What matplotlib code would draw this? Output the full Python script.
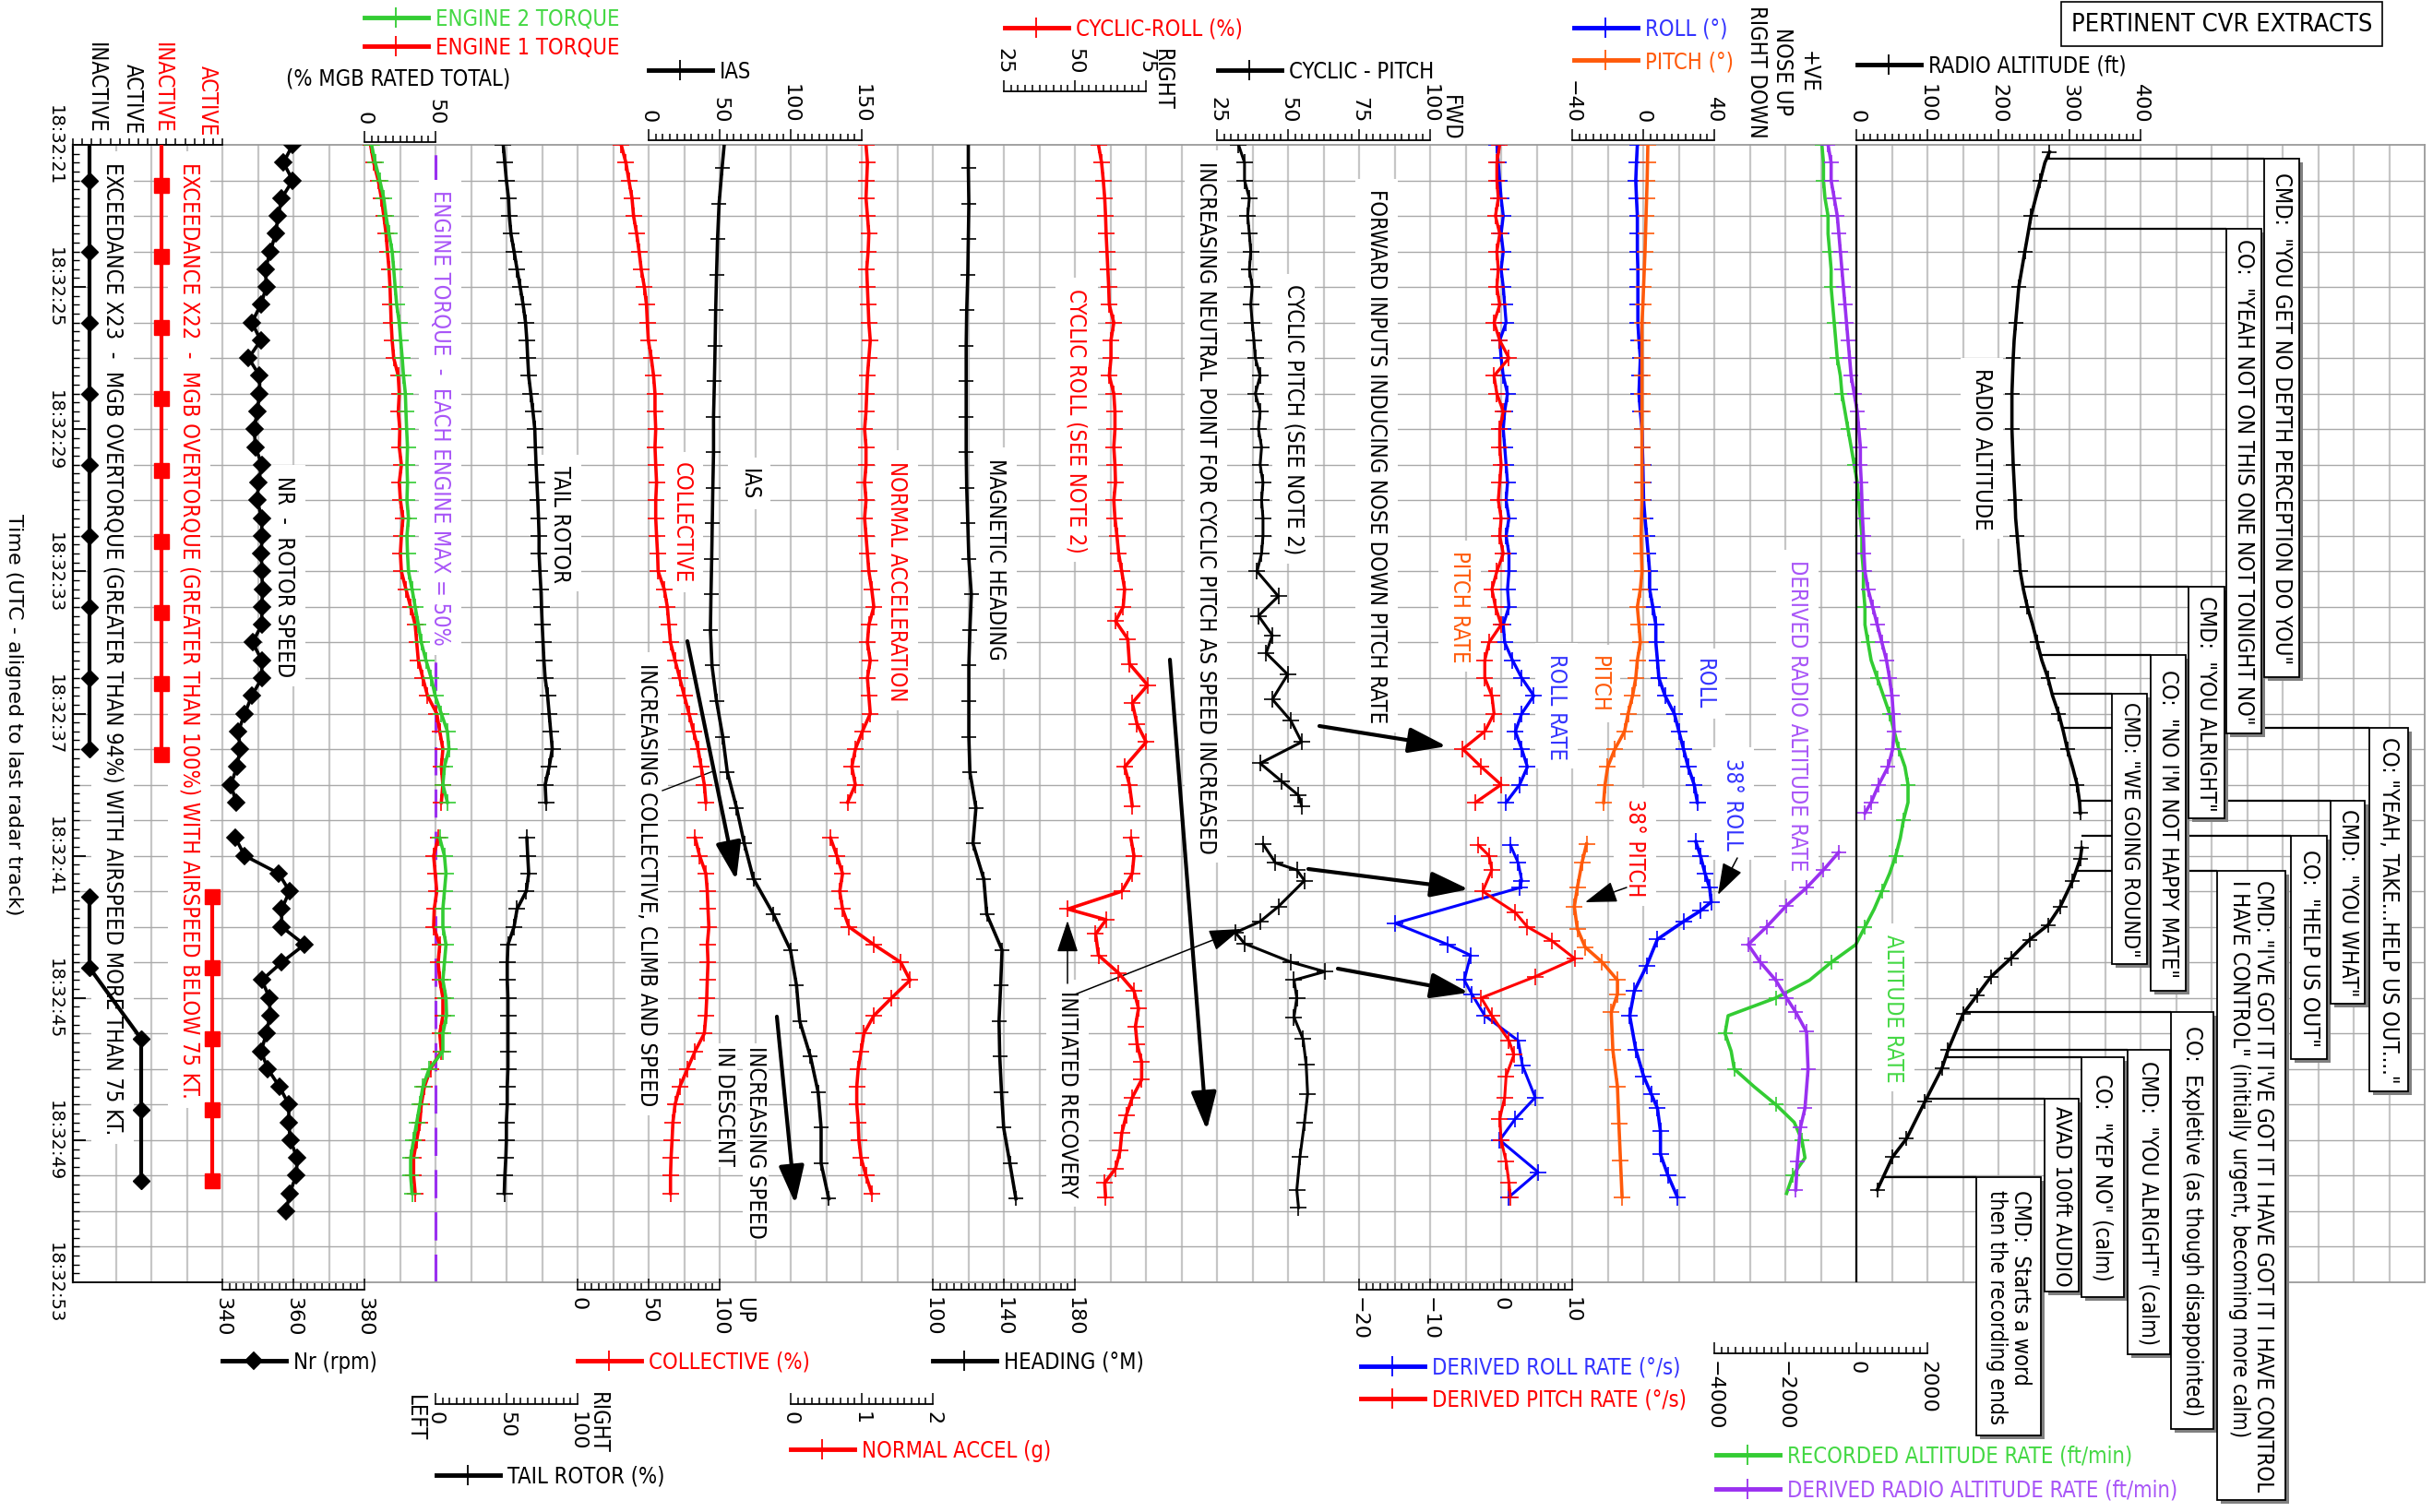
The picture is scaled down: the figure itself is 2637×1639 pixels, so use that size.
import numpy as np
import matplotlib
matplotlib.use("Agg")
import matplotlib.pyplot as plt
from matplotlib import font_manager as fm
from matplotlib.lines import Line2D
from matplotlib.patches import Rectangle

nan = np.nan

# ---------------------------------------------------------------- data
# time is seconds past 18:32:00 UTC
T_HALF = np.arange(21.0, 50.51, 0.5)                      # 2 Hz parameters
T_PRE = np.arange(21.0, 39.51, 0.5)                       # 2 Hz, before data gap
T_NR = np.arange(21.0, 51.01, 0.5)
T_SLOW = np.r_[21.0, np.arange(21.65, 50.66, 1.0)]        # 1 Hz parameters

X23_T = [20.0, 22.0, 24.0, 26.0, 28.0, 30.0, 32.0, 34.0, 36.0, 38.0, nan, 42.15, 44.15, 46.15, 48.15, 50.15]
X23_STATE = [0, 0, 0, 0, 0, 0, 0, 0, 0, 0, nan, 0, 0, 1, 1, 1]
X22_T = [20.0, 22.15, 24.15, 26.15, 28.15, 30.15, 32.15, 34.15, 36.15, 38.15, nan, 42.15, 44.15, 46.15, 48.15, 50.15]
X22_STATE = [0, 0, 0, 0, 0, 0, 0, 0, 0, 0, nan, 1, 1, 1, 1, 1]

NR = [359.8, 357.2, 359.8, 356.7, 355.7, 355.0, 353.5, 352.1, 352.4, 350.8, 348.3, 350.8, 347.4, 350.5,
      350.5, 349.8, 349.0, 349.3, 351.1, 350.2, 349.8, 351.1, 351.1, 351.0, 351.1, 351.3, 351.1, 351.1,
      348.5, 351.1, 351.1, 348.3, 346.3, 344.5, 345.0, 344.1, 342.4, 343.9, nan,
      343.7, 346.3, 355.9, 358.9, 356.7, 356.7, 363.1, 356.7, 351.1, 353.3, 353.4, 352.4, 350.9, 352.8,
      356.1, 358.7, 358.7, 359.1, 361.1, 360.8, 358.9, 358.0]

TQ_ENG1 = [4.3, 6.5, 9.7, 11.9, 13.6, 15.2, 16.2, 17.3, 18.0, 18.4, 18.8, 19.5, 20.6, 23.8, 24.5, 23.8,
           24.9, 24.5, 26.0, 24.5, 25.3, 27.1, 26.0, 25.3, 26.0, 29.2, 32.5, 35.7, 36.8, 37.9, 41.1, 44.4,
           50.9, 53.0, 55.2, 54.1, 55.2, 54.1, nan,
           51.9, 48.7, 49.8, 50.9, 49.1, 48.7, 53.0, 51.9, 53.0, 55.2, 55.2, 53.0, 54.1, 46.5, 42.2, 40.0,
           39.0, 36.8, 34.6, 34.6, 35.7]
TQ_ENG2 = [5.0, 7.6, 10.8, 13.6, 15.2, 17.3, 19.5, 20.6, 21.6, 22.7, 24.5, 25.5, 26.6, 27.5, 28.8, 29.2,
           29.7, 30.3, 29.9, 30.3, 29.9, 31.0, 29.9, 30.3, 31.0, 33.5, 35.7, 37.9, 40.0, 43.3, 47.0, 49.8,
           54.1, 58.4, 59.5, 56.3, 55.2, 58.4, nan,
           53.0, 56.3, 57.4, 56.3, 55.2, 55.2, 57.4, 56.3, 55.2, 57.4, 57.8, 55.2, 55.2, 45.5, 41.1, 39.0,
           36.8, 34.6, 32.5, 32.5, 33.5]
TAIL_ROTOR = [47.7, 48.8, 49.9, 51.4, 52.0, 53.1, 55.3, 57.4, 59.6, 61.7, 63.4, 64.3, 64.9, 65.6, 67.1,
              68.6, 69.9, 70.3, 70.8, 71.4, 72.0, 72.5, 72.9, 72.9, 73.5, 74.2, 74.6, 75.1, 75.7, 76.3,
              77.2, 78.9, 80.0, 81.1, 82.2, 80.0, 77.2, 77.8, nan,
              64.3, 64.9, 65.6, 63.9, 57.4, 55.3, 51.0, 50.5, 50.5, 51.0, 51.0, 51.0, 51.0, 51.0, 50.5,
              50.5, 49.9, 49.9, 49.5, 48.8, 48.4]
COLLECTIVE = [30.7, 34.0, 36.1, 38.3, 39.4, 41.6, 43.3, 44.8, 47.0, 48.5, 49.1, 49.8, 51.9, 53.5, 54.5,
              54.5, 55.0, 54.5, 55.0, 55.6, 55.0, 55.0, 55.6, 56.3, 56.7, 61.0, 63.2, 64.3, 65.4, 68.6,
              71.9, 75.1, 78.4, 81.6, 84.8, 87.0, 89.2, 90.3, nan,
              82.7, 85.9, 90.3, 91.3, 91.8, 92.4, 91.3, 91.8, 91.3, 90.9, 90.3, 89.2, 82.7, 77.3, 71.9,
              68.6, 67.1, 66.5, 65.8, 65.4, 65.4]
IAS = [53.2, 51.7, 49.6, 48.5, 47.8, 47.2, 46.8, 46.3, 45.7, 45.7, 45.2, 44.8, 44.4, 43.9, 43.5, 44.6,
       47.8, 52.2, 55.4, 61.9, 67.3, 73.8, 87.9, 99.8, 104.1, 106.3, 113.9, 119.3, 121.4, 121.4, 126.8]
NORMAL_G = [1.06, 1.08, 1.07, 1.06, 1.08, 1.10, 1.09, 1.07, 1.08, 1.09, 1.10, 1.12, 1.10, 1.08, 1.07,
            1.06, 1.04, 1.06, 1.06, 1.04, 1.06, 1.04, 1.06, 1.08, 1.10, 1.14, 1.17, 1.10, 1.08, 1.12,
            1.08, 1.10, 1.12, 1.01, 0.91, 0.86, 0.91, 0.80, nan,
            0.56, 0.65, 0.73, 0.69, 0.73, 0.82, 1.17, 1.55, 1.68, 1.42, 1.17, 1.03, 0.99, 0.95, 0.93,
            0.93, 0.95, 0.96, 0.99, 1.06, 1.14]
HEADING = [120.0, 120.0, 120.3, 120.0, 119.7, 119.1, 118.8, 118.8, 118.8, 118.8, 119.1, 119.7, 120.3,
           121.7, 120.9, 120.3, 120.3, 120.3, 120.9, 124.3, 122.6, 128.7, 130.4, 139.0, 138.2, 137.3,
           137.7, 138.7, 139.9, 143.4, 146.8]

CROLL_A_T = np.r_[np.arange(21.0, 34.01, 0.5), [34.4, 34.9, 35.6, 36.2, 36.7, 37.3, 37.8, 38.5, 39.0, 39.6]]
CROLL_A = [58.3, 59.4, 60.0, 60.5, 60.8, 61.0, 61.3, 61.6, 61.9, 62.1, 63.7, 62.7, 62.7, 62.1, 63.7,
           64.1, 64.1, 63.7, 64.1, 64.3, 63.7, 64.1, 64.8, 65.4, 66.5, 67.5, 67.0,
           64.3, 68.6, 69.2, 75.6, 70.2, 71.9, 75.1, 67.5, 69.2, 70.2]
CROLL_B_T = [40.5, 41.0, 41.5, 42.0, 42.5, 42.8, 43.2, 43.8, 44.3, 44.8, 45.3, 45.8, 46.3, 46.8, 47.3,
             47.8, 48.3, 48.8, 49.3, 49.8, 50.2, 50.6]
CROLL_B = [69.7, 70.8, 70.2, 66.5, 47.5, 61.0, 57.3, 58.3, 65.4, 70.8, 72.4, 71.3, 71.9, 73.5, 73.5,
           70.2, 68.1, 66.5, 65.9, 64.3, 60.5, 60.8]

CPITCH_A_T = np.r_[np.arange(21.0, 33.01, 0.5), [33.7, 34.25, 34.8, 35.3, 35.9, 36.6, 37.2, 37.8, 38.4, 38.9, 39.3, 39.6]]
CPITCH_A = [32.6, 34.7, 34.7, 36.4, 35.8, 36.4, 36.9, 36.4, 37.4, 36.9, 37.4, 38.0, 38.5, 40.2, 38.5,
            40.2, 39.6, 40.7, 40.2, 41.2, 40.7, 41.2, 41.2, 40.7, 39.1,
            46.6, 39.6, 44.5, 42.3, 49.9, 44.5, 51.0, 54.8, 40.2, 47.7, 53.7, 54.8]
CPITCH_B_T = [40.67, 41.2, 41.4, 41.7, 42.43, 42.85, 43.16, 43.47, 43.99, 44.26, 44.5, 45.0, 45.54,
              46.16, 46.88, 47.7, 48.5, 49.47, 50.4, 50.9]
CPITCH_B = [41.2, 45.6, 53.1, 55.8, 46.6, 40.2, 31.5, 34.7, 51.0, 62.9, 52.1, 53.1, 52.1, 55.3, 56.4,
            56.9, 55.8, 54.2, 53.1, 53.7]

PRATE_A = [-0.2, -0.6, -0.6, -0.4, -0.8, -0.2, -0.6, -0.4, -0.6, -0.2, -1.0, -0.2, 1.1, -1.0, -0.6,
           0.3, -0.2, -0.2, 0.0, -0.2, -0.4, 0.0, -0.2, 0.3, -0.6, -1.3, -0.8, 0.0, -1.7, -2.3, -2.3,
           -1.3, -1.0, -2.3, -5.4, -2.8, 0.0, -3.6]
PRATE_B_T = [40.7, 41.0, 41.4, 42.0, 42.6, 43.0, 43.4, 43.9, 44.4, 45.0, 45.5, 46.2, 46.6, 47.2, 47.8,
             48.4, 49.0, 49.6, 50.2, 50.6]
PRATE_B = [-3.2, -1.7, -1.3, -2.6, 2.0, 3.7, 7.2, 10.4, 4.8, -2.8, -1.3, 1.1, 1.8, 0.7, 0.5, -0.2, 0.0,
           0.7, 1.1, 1.3]
RRATE_A = [-0.6, -0.4, -0.2, 0.0, 0.3, 0.0, 0.3, 0.0, 0.3, 0.5, 0.7, -0.2, 0.0, 0.3, 0.9, 0.5, 0.3,
           0.5, 0.7, 0.9, 0.7, 1.1, 0.7, 1.1, 1.1, 0.9, 1.1, 0.3, 0.5, 1.6, 2.9, 4.6, 2.9, 2.0, 2.9,
           3.7, 2.6, 0.7]
RRATE_B_T = [40.7, 41.2, 41.7, 41.9, 42.9, 43.5, 43.8, 44.5, 44.9, 45.5, 46.2, 46.9, 47.8, 48.4, 49.0,
             49.9, 50.6]
RRATE_B = [1.3, 2.4, 2.9, 2.6, -14.9, -7.5, -4.3, -5.2, -4.1, -2.3, 2.4, 3.0, 4.8, 2.0, -0.2, 5.2, 1.1]

ROLL_A = [-3.3, -3.8, -4.2, -3.8, -3.3, -3.3, -3.3, -3.0, -3.0, -3.0, -3.0, -2.4, -1.6, -2.0, -2.4,
          -1.6, -0.7, -0.5, -0.2, 0.0, 0.2, 1.0, 1.9, 2.8, 3.6, 3.6, 5.4, 7.1, 7.1, 8.0, 8.8, 12.3,
          17.5, 20.1, 22.7, 25.3, 28.7, 30.5]
ROLL_B_T = [40.6, 41.0, 41.5, 41.9, 42.3, 42.55, 42.85, 43.35, 44.1, 44.8, 45.5, 46.45, 47.2, 47.7,
            48.1, 48.75, 49.4, 50.0, 50.6]
ROLL_B = [29.6, 32.2, 34.8, 37.4, 38.3, 32.2, 22.7, 8.0, 1.9, -5.0, -7.6, -4.2, 0.2, 4.5, 8.0, 9.7,
          9.7, 14.0, 19.2]
PITCH_A = [2.6, 2.4, 2.2, 1.9, 1.6, 1.3, 1.0, 0.6, 0.2, -0.2, -0.7, -0.7, -0.7, -0.7, -0.7, -0.7, -0.7,
           -0.7, -0.7, -0.7, -0.7, -1.0, -1.2, -1.0, -0.7, -1.6, -3.3, -2.4, -1.6, -3.3, -4.2, -6.0,
           -8.5, -10.5, -16.0, -20.0, -21.5, -22.3]
PITCH_B_T = [40.67, 41.2, 41.9, 42.43, 43.05, 43.57, 43.99, 44.5, 44.9, 45.4, 46.47, 47.5, 48.54, 49.58, 50.6]
PITCH_B = [-31.9, -34.5, -37.1, -38.8, -37.1, -32.7, -23.2, -14.5, -14.5, -18.0, -17.1, -14.5, -13.7,
           -12.8, -11.9]

ALT_RATE = [-970, -926, -926, -883, -797, -797, -753, -710, -710, -667, -623, -580, -537, -450, -407,
            -320, -234, -147, -61, 26, 69, 113, 156, 156, 199, 199, 242, 242, 329, 416, 589, 762, 935,
            1065, 1195, 1368, 1455, 1455, 1325, 1238, 1108, 935, 719, 502, 242, -17, -710, -1316,
            -2268, -3610, -3697, -3524, -3437, -2875, -2268, -1749, -1532, -1446, -1792, -1965]
RA_RATE_A_T = np.r_[T_PRE, 39.8]
RA_RATE_A = [-797, -710, -710, -623, -537, -493, -450, -407, -364, -320, -277, -234, -190, -147, -61,
             26, 69, 113, 113, 139, 156, 173, 199, 216, 242, 329, 459, 589, 719, 848, 935, 1004, 1039,
             1065, 1022, 892, 632, 416, 242]
RA_RATE_B_T = [40.9, 41.4, 41.9, 42.4, 43.0, 43.5, 44.0, 44.5, 45.0, 45.4, 45.95, 47.0, 48.1, 48.65, 49.6, 50.4]
RA_RATE_B = [-494, -926, -1403, -1965, -2528, -3048, -2700, -2270, -1965, -1706, -1403, -1359, -1446,
             -1576, -1662, -1706]

RALT_A_T = np.r_[21.2, np.arange(21.5, 39.51, 0.5), 39.8]
RALT_A = [271.9, 265.4, 258.9, 252.4, 245.9, 241.6, 237.2, 232.9, 228.6, 226.4, 224.2, 222.1, 220.8,
          219.9, 219.0, 219.0, 219.0, 219.9, 220.8, 222.1, 223.4, 224.2, 226.4, 228.6, 230.7, 235.1,
          240.7, 248.1, 254.6, 261.0, 269.7, 276.2, 284.8, 291.3, 297.0, 304.3, 310.8, 314.3, 315.2]
RALT_B_T = [40.78, 41.09, 41.71, 42.43, 42.95, 43.36, 43.88, 44.4, 44.92, 45.44, 46.47, 46.99, 47.92,
            48.96, 49.47, 50.4]
RALT_B = [317.3, 315.2, 304.3, 287.0, 269.7, 243.7, 217.7, 189.6, 170.1, 150.6, 129.0, 120.3, 96.5,
          70.6, 51.1, 29.4]

CVR_TEXT = [
    'CMD:  "YOU GET NO DEPTH PERCEPTION DO YOU"',
    'CO:  "YEAH NOT ON THIS ONE NOT TONIGHT NO"',
    'CMD:  "YOU ALRIGHT"',
    'CO:  "NO I\'M NOT HAPPY MATE"',
    'CMD: "WE GOING ROUND"',
    'CO: "YEAH, TAKE...HELP US OUT...."',
    'CMD:  "YOU WHAT"',
    'CO:  "HELP US OUT"',
    'CMD: "I\'VE GOT IT I\'VE GOT IT I HAVE GOT IT I HAVE CONTROL\nI HAVE CONTROL" (initially urgent, becoming more calm)',
    'CO:  Expletive (as though disappointed)',
    'CMD:  "YOU ALRIGHT" (calm)',
    'CO:  "YEP NO" (calm)',
    'AVAD 100ft AUDIO',
    'CMD:  Starts a word\nthen the recording ends',
]
CVR_T = [21.39, 23.36, 33.44, 35.36, 36.45, 37.39, 39.44, 40.45, 41.42, 45.39, 46.45, 46.66, 47.83, 50.04]

# ---------------------------------------------------------------- layout
W, H = 2637, 1640
X0, X1, Y0, Y1 = 79, 2628, 158, 1391
T0, T1 = 21, 53
PX_S = (Y1 - Y0) / (T1 - T0)
XG, G = 241, 38.5

RED, GREEN, BLUE = "#ff0000", "#33cc33", "#0000ff"
ORANGE, PURPLE = "#ff5a0a", "#9a30f0"
GREEN_TXT, BLUE_TXT, PURPLE_TXT = "#44d844", "#3434ff", "#a855f7"


def find_narrow_font():
    """Return the file of a condensed sans font if one is installed."""
    files = [f.fname for f in fm.fontManager.ttflist]
    prefs = ["liberationsansnarrow-regular", "dejavusanscondensed.", "notosans-condensed.",
             "robotocondensed-regular", "opensans-condensed", "opensanscondensed-light"]
    for p in prefs:
        for fn in files:
            if fn.lower().rsplit("/", 1)[-1].startswith(p):
                return fn
    skip = ("bold", "italic", "oblique", "light", "thin", "black", "medium", "semi", "extra", "mono")
    for fn in files:
        base = fn.lower().rsplit("/", 1)[-1]
        if ("narrow" in base or "condensed" in base) and not any(k in base for k in skip):
            return fn
    return None


NARROW_FILE = find_narrow_font()
FS = 17 if NARROW_FILE else 15


def nfont(size=None):
    size = size or FS
    if NARROW_FILE:
        return fm.FontProperties(fname=NARROW_FILE, size=size)
    return fm.FontProperties(family="DejaVu Sans", size=size)


def gx(u):
    return XG + G * np.asarray(u, dtype=float)


def t_of(y):
    return T0 + (y - Y0) / PX_S


fig = plt.figure(figsize=(W / 100, H / 100), dpi=100)
RECT = [X0 / W, 1 - Y1 / H, (X1 - X0) / W, (Y1 - Y0) / H]
ax = fig.add_axes(RECT)
ax.set_xlim(X0, X1)
ax.set_ylim(T1, T0)
for side in ("top", "bottom", "right"):
    ax.spines[side].set_color("#9a9a9a")
    ax.spines[side].set_linewidth(1.3)
ax.spines["left"].set_linewidth(1.6)
ax.set_xticks([])
major_t = np.arange(T0, T1 + 1, 4)
ax.set_yticks(major_t)
ax.set_yticks(np.arange(T0, T1 + 0.01, 0.25), minor=True)
ax.set_yticklabels([f"18:32:{int(s):02d}" for s in major_t])
ax.tick_params(axis="y", which="major", direction="in", length=10, width=1.3, pad=7,
               labelsize=14, labelrotation=270, labelfontfamily="DejaVu Sans")
ax.tick_params(axis="y", which="minor", direction="in", length=5, width=1.0)
for lbl in ax.get_yticklabels():
    lbl.set_verticalalignment("center")

ax.vlines(gx(np.arange(-3, 62)), T0, T1, colors="#c6c6c6", lw=1.6, zorder=0)
ax.hlines(np.arange(T0 + 1, T1), X0, X1, colors="#a9a9a9", lw=1.0, zorder=0)


def lane(v0, p0, v1, p1):
    la = fig.add_axes(RECT, sharey=ax)
    k = (v1 - v0) / (p1 - p0)
    la.set_xlim(v0 + (X0 - p0) * k, v0 + (X1 - p0) * k)
    la.patch.set_visible(False)
    for s in la.spines.values():
        s.set_visible(False)
    la.tick_params(axis="both", which="both", left=False, labelleft=False, bottom=False,
                   labelbottom=False, top=False, labeltop=False)
    return la


def to_px(la, v):
    v = np.atleast_1d(np.asarray(v, dtype=float))
    disp = la.transData.transform(np.column_stack([v, np.full(v.size, T0)]))
    return ax.transData.inverted().transform(disp)[:, 0]


def px_to(la, p):
    disp = ax.transData.transform((p, T0))
    return la.transData.inverted().transform(disp)[0]


def scale(la, side, off, lo, hi, major, minor):
    sp = la.spines[side]
    sp.set_visible(True)
    sp.set_bounds(lo, hi)
    sp.set_position(("outward", off * 0.72))
    sp.set_linewidth(1.3)
    la.set_xticks(major)
    la.set_xticks(np.arange(lo, hi + minor * 0.5, minor), minor=True)
    top = side == "top"
    la.tick_params(axis="x", which="both", top=top, labeltop=top, bottom=not top,
                   labelbottom=not top, direction="out" if top else "in", width=1.1)
    la.tick_params(axis="x", which="major", length=9, pad=5, labelrotation=270, labelsize=16,
                   labelfontfamily="DejaVu Sans")
    la.tick_params(axis="x", which="minor", length=5)


def trace(la, t, v, color, marker="+", ms=13, lw=2.6, mew=1.2, **kw):
    la.plot(v, t, color=color, lw=lw, marker=marker, ms=ms, mew=mew, solid_joinstyle="round", **kw)


x23_ax = lane(0, 97, 1, 153)
x22_ax = lane(0, 175, 1, 230)
nr_ax = lane(340, gx(0), 380, gx(4))
tq_ax = lane(0, gx(4), 50, gx(6))
tr_ax = lane(0, gx(6), 100, gx(10))
co_ax = lane(0, gx(10), 100, gx(14))
ias_ax = lane(0, gx(12), 150, gx(18))
nz_ax = lane(0, gx(16), 2, gx(20))
hdg_ax = lane(100, gx(20), 180, gx(24))
cr_ax = lane(25, gx(22), 75, gx(26))
cp_ax = lane(25, gx(28), 100, gx(34))
rate_ax = lane(-20, gx(32), 10, gx(38))
att_ax = lane(-40, gx(38), 40, gx(42))
vs_ax = lane(-4000, gx(42), 2000, gx(48))
ra_ax = lane(0, gx(46), 400, gx(54))

# exceedance box edges with tick marks
ex_lo, ex_hi = px_to(x23_ax, X0), px_to(x23_ax, gx(0))
scale(x23_ax, "top", 0, ex_lo, ex_hi, [], (ex_hi - ex_lo) / 16)
x23_ax.spines["bottom"].set_visible(True)
x23_ax.spines["bottom"].set_bounds(ex_lo, ex_hi)
x23_ax.spines["bottom"].set_linewidth(1.3)

scale(nr_ax, "bottom", 8, 340, 380, [340, 360, 380], 2)
scale(tq_ax, "top", 3, 0, 50, [0, 50], 5)
scale(tr_ax, "bottom", 132, 0, 100, [0, 50, 100], 5)
scale(co_ax, "bottom", 8, 0, 100, [0, 50, 100], 5)
scale(ias_ax, "top", 5, 0, 150, [0, 50, 100, 150], 5)
scale(nz_ax, "bottom", 132, 0, 2, [0, 1, 2], 0.1)
scale(hdg_ax, "bottom", 8, 100, 180, [100, 140, 180], 4)
scale(cr_ax, "top", 58, 25, 75, [25, 50, 75], 2.5)
scale(cp_ax, "top", 5, 25, 100, [25, 50, 75, 100], 2.5)
scale(rate_ax, "bottom", 8, -20, 10, [-20, -10, 0, 10], 1)
scale(att_ax, "top", 5, -40, 40, [-40, 0, 40], 4)
scale(vs_ax, "bottom", 77, -4000, 2000, [-4000, -2000, 0, 2000], 200)
scale(ra_ax, "top", 5, 0, 400, [0, 100, 200, 300, 400], 10)

# reference lines
ax.axvline(to_px(tq_ax, 50)[0], color=PURPLE, lw=2.2, ls=(0, (10, 5)), zorder=1)
ra_ax.axvline(0, color="k", lw=1.6, zorder=1)

# ---------------------------------------------------------------- traces
x23_ax.plot(X23_STATE, X23_T, color="k", lw=3, marker="D", ms=9)
x22_ax.plot(X22_STATE, X22_T, color=RED, lw=3, marker="s", ms=12)
trace(nr_ax, T_NR, NR, "k", marker="D", ms=9, lw=2.6)
trace(tq_ax, T_HALF, TQ_ENG1, RED)
trace(tq_ax, T_HALF, TQ_ENG2, GREEN)
trace(tr_ax, T_HALF, TAIL_ROTOR, "k")
trace(co_ax, T_HALF, COLLECTIVE, RED)
trace(ias_ax, T_SLOW, IAS, "k", ms=11, markevery=slice(1, None))
trace(nz_ax, T_HALF, NORMAL_G, RED)
trace(hdg_ax, T_SLOW, HEADING, "k", ms=11, markevery=slice(1, None))
trace(cr_ax, CROLL_A_T, CROLL_A, RED)
trace(cr_ax, CROLL_B_T, CROLL_B, RED)
trace(cp_ax, CPITCH_A_T, CPITCH_A, "k", lw=2.2)
trace(cp_ax, CPITCH_B_T, CPITCH_B, "k", lw=2.2)
trace(rate_ax, T_PRE, RRATE_A, BLUE, lw=2.4)
trace(rate_ax, RRATE_B_T, RRATE_B, BLUE, lw=2.2)
trace(rate_ax, T_PRE, PRATE_A, RED, lw=2.4)
trace(rate_ax, PRATE_B_T, PRATE_B, RED, lw=2.2)
trace(att_ax, T_PRE, ROLL_A, BLUE)
trace(att_ax, ROLL_B_T, ROLL_B, BLUE)
trace(att_ax, T_PRE, PITCH_A, ORANGE)
trace(att_ax, PITCH_B_T, PITCH_B, ORANGE)
trace(vs_ax, T_HALF, ALT_RATE, GREEN, ms=12, markevery=2)
trace(vs_ax, RA_RATE_A_T, RA_RATE_A, PURPLE, ms=12)
trace(vs_ax, RA_RATE_B_T, RA_RATE_B, PURPLE, ms=12)
trace(ra_ax, RALT_A_T, RALT_A, "k", ms=12, markevery=2)
trace(ra_ax, RALT_B_T, RALT_B, "k", ms=12)

# ---------------------------------------------------------------- labels in the plot
LABELS = [
    ("EXCEEDANCE X23  -  MGB OVERTORQUE (GREATER THAN 94%) WITH AIRSPEED MORE THAN 75 KT.", 122, 176, "k", "top"),
    ("EXCEEDANCE X22  -  MGB OVERTORQUE (GREATER THAN 100%) WITH AIRSPEED BELOW 75 KT.", 205, 176, RED, "top"),
    ("NR  -  ROTOR SPEED", 308, 625, "k", "center"),
    ("ENGINE TORQUE  -  EACH ENGINE MAX = 50%", 477, 453, PURPLE_TXT, "center"),
    ("TAIL ROTOR", 607, 568, "k", "center"),
    ("COLLECTIVE", 739, 567, RED, "center"),
    ("IAS", 812, 525, "k", "center"),
    ("INCREASING COLLECTIVE, CLIMB AND SPEED", 701, 959, "k", "center"),
    ("IN DESCENT", 785, 1134, "k", "top"),
    ("INCREASING SPEED", 819, 1134, "k", "top"),
    ("NORMAL ACCELERATION", 972, 630, RED, "center"),
    ("MAGNETIC HEADING", 1079, 606, "k", "center"),
    ("CYCLIC ROLL (SEE NOTE 2)", 1167, 456, RED, "center"),
    ("INITIATED RECOVERY", 1157, 1186, "k", "center"),
    ("INCREASING NEUTRAL POINT FOR CYCLIC PITCH AS SPEED INCREASED", 1307, 550, "k", "center"),
    ("CYCLIC PITCH (SEE NOTE 2)", 1402, 455, "k", "center"),
    ("FORWARD INPUTS INDUCING NOSE DOWN PITCH RATE", 1492, 495, "k", "center"),
    ("PITCH RATE", 1582, 658, ORANGE, "center"),
    ("ROLL RATE", 1687, 766, BLUE_TXT, "center"),
    ("PITCH", 1733, 742, ORANGE, "center"),
    ("38° PITCH", 1772, 919, RED, "center"),
    ("ROLL", 1847, 742, BLUE_TXT, "center"),
    ("38° ROLL", 1878, 872, BLUE_TXT, "center"),
    ("DERIVED RADIO ALTITUDE RATE", 1948, 776, PURPLE_TXT, "center"),
    ("ALTITUDE RATE", 2052, 1093, GREEN_TXT, "center"),
    ("RADIO ALTITUDE", 2148, 487, "k", "center"),
]
TIGHT = ("IN DESCENT", "INCREASING SPEED")
for s, x, y, c, va in LABELS:
    pad = 0.08 if s in TIGHT else 0.45
    ax.text(x, t_of(y), s, rotation=270, ha="center", va=va, color=c, fontproperties=nfont(), zorder=3,
            bbox=dict(boxstyle=f"square,pad={pad}", fc="white", ec="none"))

THICK = [((745, 696), (798, 955)), ((842, 1103), (862, 1306)), ((1268, 716), (1308, 1226)),
         ((1430, 788), (1568, 810)), ((1418, 943), (1592, 965)), ((1450, 1051), (1592, 1077))]
THIN = [((1157, 1067), (1157, 999)), ((1165, 1079), (1345, 1008)), ((1763, 963), (1718, 979)),
        ((1883, 931), (1862, 971))]
for (xa, ya), (xb, yb) in THICK:
    ax.annotate("", xy=(xb, t_of(yb)), xytext=(xa, t_of(ya)), zorder=4,
                arrowprops=dict(arrowstyle="-|>,head_length=0.9,head_width=0.3", lw=3, color="k",
                                shrinkA=0, shrinkB=0, mutation_scale=28))
for (xa, ya), (xb, yb) in THIN:
    ax.annotate("", xy=(xb, t_of(yb)), xytext=(xa, t_of(ya)), zorder=4,
                arrowprops=dict(arrowstyle="-|>,head_length=0.9,head_width=0.3", lw=1.1, color="k",
                                shrinkA=0, shrinkB=0, mutation_scale=24))
ax.plot([718, 773], [t_of(858), t_of(837)], color="k", lw=1.0, zorder=4)

# ---------------------------------------------------------------- CVR extracts
CVR_BOX = [(2454, 2492, 735), (2413, 2451, 796), (2372, 2411, 888), (2331, 2369, 1075),
           (2289, 2327, 1046), (2568, 2610, 1184), (2526, 2563, 1089), (2483, 2522, 1149),
           (2403, 2477, 1627), (2353, 2399, 1550), (2306, 2352, 1469), (2256, 2302, 1407),
           (2216, 2253, 1401), (2142, 2212, 1557)]
ra_all_t = np.r_[RALT_A_T, RALT_B_T]
ra_all_v = np.r_[RALT_A, RALT_B]
conn_x = to_px(ra_ax, np.interp(CVR_T, ra_all_t, ra_all_v))
renderer = fig.canvas.get_renderer()
for text, tc, cx, (bl, br, bb) in zip(CVR_TEXT, CVR_T, conn_x, CVR_BOX):
    ax.plot([cx, bl], [tc, tc], color="k", lw=1.6, zorder=2, solid_capstyle="butt")
    tb = t_of(bb)
    ax.add_patch(Rectangle((bl + 4, tc + 4 / PX_S), br - bl, tb - tc, fc="#808080", ec="none",
                           zorder=5, clip_on=False))
    ax.add_patch(Rectangle((bl, tc), br - bl, tb - tc, fc="white", ec="k", lw=1.3, zorder=6,
                           clip_on=False))
    txt = ax.text((bl + br) / 2, (tc + tb) / 2, text, rotation=270, ha="center", va="center",
                  multialignment="left", fontproperties=nfont(), zorder=7, clip_on=False,
                  linespacing=1.1)
    # shrink the text if it does not fit inside its box
    ext = txt.get_window_extent(renderer)
    box_h = (bb - (Y0 + (tc - T0) * PX_S)) - 14
    box_w = (br - bl) - 4
    ratio = min(box_h / ext.height, box_w / ext.width, 1.0)
    if ratio < 1.0:
        txt.set_fontsize(txt.get_fontsize() * ratio)

# ---------------------------------------------------------------- legends & outside text
LEGEND = [
    (395, 21, "ENGINE 2 TORQUE", GREEN, GREEN_TXT, "|"),
    (395, 52, "ENGINE 1 TORQUE", RED, RED, "|"),
    (703, 78, "IAS", "k", "k", "|"),
    (1089, 32, "CYCLIC-ROLL (%)", RED, RED, "|"),
    (1320, 78, "CYCLIC - PITCH", "k", "k", "|"),
    (1706, 32, "ROLL (°)", BLUE, BLUE_TXT, "|"),
    (1706, 67, "PITCH (°)", ORANGE, ORANGE, "|"),
    (2013, 72, "RADIO ALTITUDE (ft)", "k", "k", "|"),
    (241, 1477, "Nr (rpm)", "k", "k", "D"),
    (626, 1477, "COLLECTIVE (%)", RED, RED, "|"),
    (1011, 1477, "HEADING (°M)", "k", "k", "|"),
    (473, 1601, "TAIL ROTOR (%)", "k", "k", "|"),
    (857, 1573, "NORMAL ACCEL (g)", RED, RED, "|"),
    (1475, 1483, "DERIVED ROLL RATE (°/s)", BLUE, BLUE_TXT, "|"),
    (1475, 1518, "DERIVED PITCH RATE (°/s)", RED, RED, "|"),
    (1860, 1579, "RECORDED ALTITUDE RATE (ft/min)", GREEN, GREEN_TXT, "|"),
    (1860, 1616, "DERIVED RADIO ALTITUDE RATE (ft/min)", PURPLE, PURPLE_TXT, "|"),
]
for x, y, label, lc, tc, mk in LEGEND:
    handle = Line2D([], [], color=lc, lw=3.5, marker=mk, ms=9 if mk == "D" else 16, mew=1.3)
    fig.legend(handles=[handle], labels=[label], loc="center left", bbox_to_anchor=(x / W, 1 - y / H),
               frameon=False, handlelength=69 / (FS * 1.389), handletextpad=0.35, borderpad=0,
               borderaxespad=0, prop=nfont(), labelcolor=tc)


def ftext(x, y, s, size=None, **kw):
    kw.setdefault("fontproperties", nfont(size))
    fig.text(x / W, 1 - y / H, s, **kw)


ftext(432, 85, "(% MGB RATED TOTAL)", ha="center", va="center")
ftext(104, 145, "INACTIVE", rotation=270, ha="center", va="bottom")
ftext(144, 145, "ACTIVE", rotation=270, ha="center", va="bottom")
ftext(176, 145, "INACTIVE", rotation=270, ha="center", va="bottom", color=RED)
ftext(225, 147, "ACTIVE", rotation=270, ha="center", va="bottom", color=RED)
ftext(1260, 86, "RIGHT", rotation=270, ha="center", va="center")
ftext(1572, 128, "FWD", rotation=270, ha="center", va="center")
ftext(1932, 78, "+VE\nNOSE UP\nRIGHT DOWN", rotation=270, ha="center", va="center",
      multialignment="center", linespacing=1.2)
ftext(806, 1420, "UP", rotation=270, ha="center", va="center")
ftext(450, 1537, "LEFT", rotation=270, ha="center", va="center")
ftext(648, 1542, "RIGHT", rotation=270, ha="center", va="center")
ftext(2408, 27, "PERTINENT CVR EXTRACTS", size=19.5, ha="center", va="center",
      bbox=dict(boxstyle="square,pad=0.4", fc="white", ec="k", lw=1.2))
fig.text(15 / W, 1 - 775 / H, "Time (UTC - aligned to last radar track)", rotation=270,
         ha="center", va="center", family="DejaVu Sans", fontsize=16)

fig.savefig("out.png", dpi=100)
